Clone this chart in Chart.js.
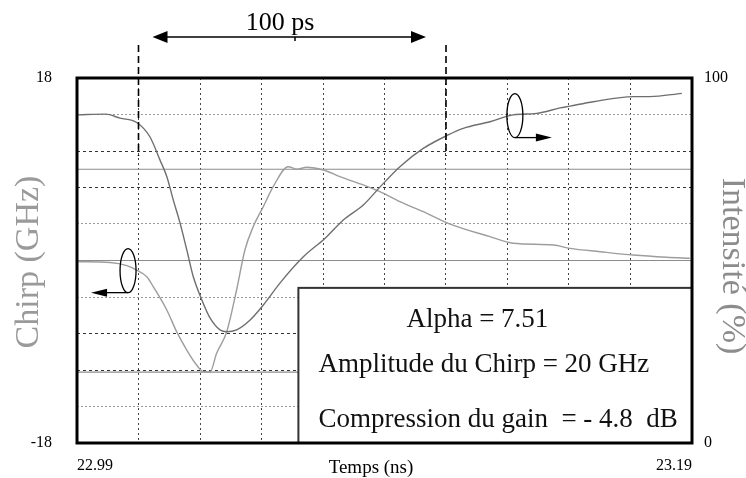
<!DOCTYPE html>
<html lang="fr">
<head>
<meta charset="utf-8">
<title>Chirp et intensité</title>
<script src="https://cdn.jsdelivr.net/npm/chart.js@4.4.1/dist/chart.umd.min.js"></script>
<style>
  html, body { margin: 0; padding: 0; background: #fff; }
  canvas { display: block; }
</style>
</head>
<body>
<canvas id="chirpChart" width="746" height="478"></canvas>
<script>
// axe des temps (ns)
const X_MIN = 22.99;
const X_MAX = 23.19;
const X_TICKS = [22.99, 23.01, 23.03, 23.05, 23.07, 23.09, 23.11, 23.13, 23.15, 23.17, 23.19];

// chirp (GHz) à gauche, intensité (%) à droite
const CHIRP_TICKS = [-18, -14.4, -10.8, -7.2, -3.6, 0, 3.6, 7.2, 10.8, 14.4, 18];
const INT_TICKS = [0, 10, 20, 30, 40, 50, 60, 70, 80, 90, 100];

// intensité de l'impulsion
const INT_T = [22.9904, 22.9993, 23.0040, 23.0094, 23.0137, 23.0170, 23.0192, 23.0213, 23.0235, 23.0257,
               23.0278, 23.0306, 23.0333, 23.0365, 23.0387, 23.0419, 23.0463, 23.0506, 23.0560, 23.0636,
               23.0707, 23.0766, 23.0831, 23.0885, 23.0950, 23.1026, 23.1107, 23.1156, 23.1243, 23.1319,
               23.1395, 23.1471, 23.1503, 23.1579, 23.1709, 23.1763, 23.1867];
const INT_V = [89.9, 90.1, 89.0, 87.8, 83.9, 77.5, 73.0, 66.6, 60.3, 52.9,
               45.6, 39.2, 34.2, 31.0, 30.5, 31.0, 33.7, 37.8, 43.8, 51.0,
               56.1, 61.1, 65.2, 70.1, 75.7, 80.7, 84.4, 86.2, 88.0, 89.9,
               90.3, 91.8, 92.3, 93.5, 94.9, 94.9, 95.8];

// chirp
const CHIRP_T = [22.9904, 23.0007, 23.0062, 23.0094, 23.0127, 23.0148, 23.0192, 23.0224, 23.0257, 23.0289,
                 23.0310, 23.0333, 23.0354, 23.0387, 23.0419, 23.0446, 23.0473, 23.0506, 23.0538, 23.0587,
                 23.0615, 23.0647, 23.0701, 23.0755, 23.0831, 23.0885, 23.0950, 23.1026, 23.1107, 23.1243,
                 23.1319, 23.1449, 23.1503, 23.1601, 23.1709, 23.1818, 23.1893];
const CHIRP_V = [-0.12, -0.2, -0.5, -0.94, -1.6, -2.58, -4.88, -7.02, -8.83, -10.31,
                 -10.95, -10.97, -9.15, -7.02, -2.91, 1.04, 3.33, 5.31, 7.28, 9.25,
                 9.0, 9.19, 8.93, 8.27, 7.45, 6.79, 5.8, 4.81, 3.67, 2.35,
                 1.7, 1.53, 1.2, 0.87, 0.54, 0.32, 0.22];

// niveaux max / zéro / min du chirp (amplitude 20 GHz)
const CHIRP_LEVELS = [9, 0, -11];

// fenêtre de 100 ps
const WINDOW = [23.01, 23.11];

const INFO_LINES = ['Alpha = 7.51', 'Amplitude du Chirp = 20 GHz', 'Compression du gain  = - 4.8  dB'];

const SERIF = '"Liberation Serif", "DejaVu Serif", serif';

const pairs = (xs, ys) => xs.map((x, i) => ({ x, y: ys[i] }));
const setTicks = values => axis => { axis.ticks = values.map(value => ({ value })); };
const endsOnly = fmt => (value, index, ticks) =>
    (index === 0 || index === ticks.length - 1) ? fmt(value) : '';

// petite ellipse avec flèche indiquant l'axe d'une courbe
function ringArrow(ctx, cx, cy, dir) {
    ctx.beginPath();
    ctx.ellipse(cx, cy, 8, 22, 0, 0, Math.PI * 2);
    ctx.stroke();
    const ly = cy + 22;
    const tip = cx + dir * 37;
    ctx.beginPath();
    ctx.moveTo(cx, ly);
    ctx.lineTo(tip - dir * 14, ly);
    ctx.stroke();
    ctx.beginPath();
    ctx.moveTo(tip, ly);
    ctx.lineTo(tip - dir * 16, ly - 4);
    ctx.lineTo(tip - dir * 16, ly + 4);
    ctx.closePath();
    ctx.fill();
}

function arrowHead(ctx, tipX, y, dir) {
    ctx.beginPath();
    ctx.moveTo(tipX, y);
    ctx.lineTo(tipX + dir * 15, y - 6);
    ctx.lineTo(tipX + dir * 15, y + 6);
    ctx.closePath();
    ctx.fill();
}

const annotations = {
    id: 'annotations',
    afterDatasetsDraw(chart) {
        const { ctx, chartArea: a, scales: { x, y, y1 } } = chart;
        ctx.save();

        // encadré des paramètres
        const bx = x.getPixelForValue(23.062);
        const by = y.getPixelForValue(-2.7);
        ctx.fillStyle = '#fff';
        ctx.fillRect(bx, by, a.right - bx, a.bottom - by);
        ctx.strokeStyle = '#333';
        ctx.lineWidth = 2;
        ctx.strokeRect(bx, by, a.right - bx, a.bottom - by);
        ctx.fillStyle = '#111';
        ctx.font = '27px ' + SERIF;
        ctx.textAlign = 'left';
        ctx.textBaseline = 'alphabetic';
        ctx.fillText(INFO_LINES[0], bx + 108, by + 39);
        ctx.fillText(INFO_LINES[1], bx + 20, by + 84);
        ctx.fillText(INFO_LINES[2], bx + 20, by + 139);

        // cadre du graphe
        ctx.strokeStyle = '#000';
        ctx.lineWidth = 3;
        ctx.strokeRect(a.left, a.top, a.right - a.left, a.bottom - a.top);

        // repères de la fenêtre de 100 ps
        const w0 = x.getPixelForValue(WINDOW[0]);
        const w1 = x.getPixelForValue(WINDOW[1]);
        ctx.lineWidth = 1.6;
        ctx.setLineDash([7, 4]);
        [w0, w1].forEach(px => {
            ctx.beginPath();
            ctx.moveTo(px, 45);
            ctx.lineTo(px, a.top + 78);
            ctx.stroke();
        });
        ctx.setLineDash([]);

        const ay = 37;
        ctx.fillStyle = '#000';
        ctx.lineWidth = 1.5;
        ctx.beginPath();
        ctx.moveTo(w0 + 20, ay);
        ctx.lineTo(w1 - 26, ay);
        ctx.moveTo(295, ay);
        ctx.lineTo(295, ay + 4);
        ctx.stroke();
        arrowHead(ctx, w0 + 14, ay, 1);
        arrowHead(ctx, w1 - 20, ay, -1);
        ctx.font = '26px ' + SERIF;
        ctx.textAlign = 'center';
        ctx.fillText('100 ps', 280, 30);

        // ellipses : chirp -> axe gauche, intensité -> axe droit
        ctx.lineWidth = 1.3;
        ringArrow(ctx, x.getPixelForValue(23.0066), y.getPixelForValue(-1.0), -1);
        ringArrow(ctx, x.getPixelForValue(23.1324), y1.getPixelForValue(89.7), 1);

        // titres des axes
        ctx.fillStyle = '#9a9a9a';
        ctx.font = '34px ' + SERIF;
        ctx.save();
        ctx.translate(a.left - 39, 262);
        ctx.rotate(-Math.PI / 2);
        ctx.fillText('Chirp (GHz)', 0, 0);
        ctx.restore();

        ctx.fillStyle = '#8c8c8c';
        ctx.save();
        ctx.translate(a.right + 31, 266);
        ctx.rotate(Math.PI / 2);
        ctx.fillText('Intensité (%)', 0, 0);
        ctx.restore();

        ctx.fillStyle = '#000';
        ctx.font = '19px ' + SERIF;
        ctx.fillText('Temps (ns)', 371, 473);

        ctx.restore();
    }
};

const tickFont = { family: SERIF, size: 16 };

new Chart(document.getElementById('chirpChart'), {
    type: 'line',
    data: {
        datasets: [
            {
                label: 'Intensité',
                data: pairs(INT_T, INT_V),
                yAxisID: 'y1',
                borderColor: '#6f6f6f',
                borderWidth: 1.4,
                pointRadius: 0,
                cubicInterpolationMode: 'monotone'
            },
            {
                label: 'Chirp',
                data: pairs(CHIRP_T, CHIRP_V),
                yAxisID: 'y',
                borderColor: '#9d9d9d',
                borderWidth: 1.4,
                pointRadius: 0,
                cubicInterpolationMode: 'monotone'
            },
            ...CHIRP_LEVELS.map(level => ({
                label: 'Niveau ' + level,
                data: [{ x: X_MIN, y: level }, { x: X_MAX, y: level }],
                yAxisID: 'y',
                borderColor: '#8c8c8c',
                borderWidth: 1.2,
                pointRadius: 0
            }))
        ]
    },
    options: {
        responsive: false,
        animation: false,
        layout: { padding: { top: 78 } },
        plugins: {
            legend: { display: false },
            tooltip: { enabled: false }
        },
        scales: {
            x: {
                type: 'linear',
                min: X_MIN,
                max: X_MAX,
                afterBuildTicks: setTicks(X_TICKS),
                afterFit: scale => { scale.height = 35; },
                grid: { color: '#444', lineWidth: 1, drawTicks: false },
                border: { display: false, dash: [2, 3] },
                ticks: {
                    autoSkip: false,
                    maxRotation: 0,
                    align: 'inner',
                    padding: 13,
                    color: '#000',
                    font: tickFont,
                    callback: endsOnly(v => v.toFixed(2))
                }
            },
            y: {
                position: 'left',
                min: -18,
                max: 18,
                afterBuildTicks: setTicks(CHIRP_TICKS),
                afterFit: scale => { scale.width = 77; },
                grid: {
                    drawTicks: false,
                    lineWidth: 1,
                    color: c => [2, 3, 7, 8].includes(c.index) ? '#333' : '#9a9a9a'
                },
                border: {
                    display: false,
                    dash: c => [2, 3, 7, 8].includes(c.index) ? [3, 3] : [2, 2]
                },
                ticks: {
                    autoSkip: false,
                    padding: 25,
                    color: '#000',
                    font: tickFont,
                    callback: endsOnly(v => String(v))
                }
            },
            y1: {
                position: 'right',
                min: 0,
                max: 100,
                afterBuildTicks: setTicks(INT_TICKS),
                afterFit: scale => { scale.width = 54; },
                grid: { display: false, drawTicks: false },
                border: { display: false },
                ticks: {
                    autoSkip: false,
                    padding: 12,
                    color: '#000',
                    font: tickFont,
                    callback: endsOnly(v => String(v))
                }
            }
        }
    },
    plugins: [annotations]
});
</script>
</body>
</html>
